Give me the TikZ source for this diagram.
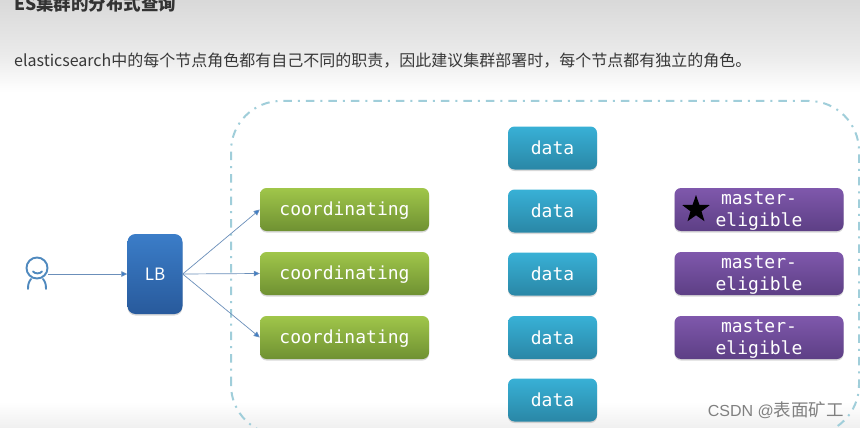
\documentclass[tikz,border=0pt]{standalone}
\usepackage{fontspec}
\setmainfont{Noto Sans CJK SC}
\newfontfamily\monof{DejaVu Sans Mono}
\newfontfamily\wmlat{Liberation Sans}
\usetikzlibrary{shapes.geometric,shadows,arrows.meta}
\definecolor{linkc}{HTML}{6B8FBA}
\definecolor{boundc}{HTML}{A0CEDA}
\definecolor{coordtop}{HTML}{A0C64A}
\definecolor{coordbot}{HTML}{6F9132}
\definecolor{datatop}{HTML}{38B1D6}
\definecolor{databot}{HTML}{2A86A6}
\definecolor{mastertop}{HTML}{7F58AC}
\definecolor{masterbot}{HTML}{5D3F85}
\definecolor{lbtop}{HTML}{3B7DC8}
\definecolor{lbbot}{HTML}{285A9C}
\definecolor{iconc}{HTML}{4F89BE}
\newcommand{\lowered}[2]{\raisebox{-#1pt}[\height][\depth]{#2}}
\tikzset{
  x=1pt,y=-1pt,
  boxbase/.style={rounded corners=6.5pt,minimum height=43pt,inner sep=0pt,text=white,align=center,
    drop shadow={shadow xshift=0pt,shadow yshift=-1.5pt,opacity=.3,fill=black!50},
    font=\monof\fontsize{18}{22}\selectfont},
  coordbox/.style={boxbase,minimum width=169pt,top color=coordtop,bottom color=coordbot},
  databox/.style={boxbase,minimum width=89pt,top color=datatop,bottom color=databot},
  masterbox/.style={boxbase,minimum width=169pt,top color=mastertop,bottom color=masterbot},
  lbbox/.style={boxbase,rounded corners=8pt,minimum width=55pt,minimum height=80pt,top color=lbtop,bottom color=lbbot,font=\fontsize{17}{20}\selectfont},
  link/.style={draw=linkc,line width=.7pt,-{Triangle[length=6pt,width=5.5pt,fill=lbtop]}},
  iconline/.style={draw=iconc,line width=1.9pt,line cap=round,fill=none},
  txt/.style={inner sep=0pt,anchor=west}
}
\begin{document}
\begin{tikzpicture}
\useasboundingbox (0,0) rectangle (860,428);
\fill[white] (0,0) rectangle (860,428);
\shade[top color=black!15,bottom color=black!8] (0,0) rectangle (860,55);
\shade[top color=black!8,bottom color=white] (0,55) rectangle (860,92);
\shade[top color=white,bottom color=black!6] (0,402) rectangle (860,428);
\node[txt,font=\bfseries\fontsize{17.5}{20}\selectfont,text=black!80] (title) at (14,4) {ES集群的分布式查询};
\node[txt,font=\fontsize{16}{18}\selectfont,text=black!78] (sub) at (14,61) {elasticsearch中的每个节点角色都有自己不同的职责，因此建议集群部署时，每个节点都有独立的角色。};
\draw[boundc,line width=2pt,dash pattern=on 8.5pt off 6pt on 2pt off 6pt,rounded corners=50pt]
  (231,435) -- (231,101) -- (859,101) -- (859,435) -- cycle;
\node[lbbox] (lb) at (155,274) {LB};
\node[coordbox] (c1) at (344.5,209.5) {\lowered{1.5}{coordinating}};
\node[coordbox] (c2) at (344.5,273.5) {\lowered{1.5}{coordinating}};
\node[coordbox] (c3) at (344.5,337.5) {\lowered{1.5}{coordinating}};
\foreach \n/\yy in {1/148,2/211,3/274,4/337.5,5/400}
  \node[databox] (d\n) at (552.5,\yy) {data};
\node[masterbox] (m1) at (759,209.5) {\lowered{2}{master-}\\\lowered{2}{eligible}};
\node[masterbox] (m2) at (759,273.5) {\lowered{2}{master-}\\\lowered{2}{eligible}};
\node[masterbox] (m3) at (759,337.5) {\lowered{2}{master-}\\\lowered{2}{eligible}};
\node[star,star points=5,star point ratio=2.5,fill=black,inner sep=0pt,minimum size=29pt] (starm) at (696,209.5) {};
\node[circle,draw=iconc,line width=1.9pt,minimum size=21pt,inner sep=0pt] (user) at (37,268) {};
\draw[iconline] (33,271.5) .. controls (35,274) and (40,274) .. (42,271.5);
\draw[iconline] (31,279) .. controls (28.5,282) and (28,285) .. (28,289);
\draw[iconline] (43,279) .. controls (45.5,282) and (46,285) .. (46,289);
\draw[link] (user.east |- lb.west) -- (lb.west);
\draw[link] (lb.east) -- (c1.west);
\draw[link] (lb.east) -- (c2.west);
\draw[link] (lb.east) -- (c3.west);
\node[anchor=east,inner sep=0pt,text=black!50,font=\fontsize{17.5}{20}\selectfont] (wm) at (844,410.5) {{\wmlat\fontsize{16}{20}\selectfont CSDN @}表面矿工};
\end{tikzpicture}
\end{document}
